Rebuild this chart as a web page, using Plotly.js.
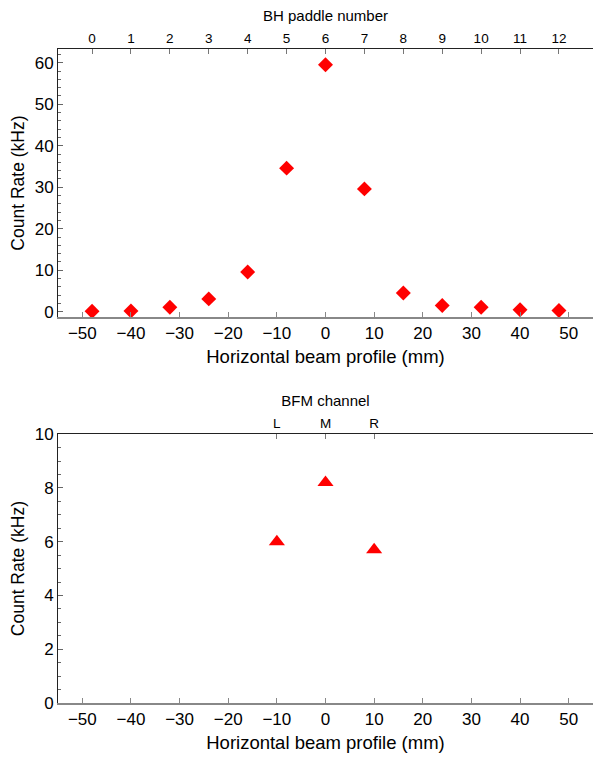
<!DOCTYPE html>
<html>
<head>
<meta charset="utf-8">
<script src="https://cdn.plot.ly/plotly-3.0.1.min.js"></script>
<style>
  html, body { margin: 0; padding: 0; background: #fff; }
  #chart { width: 593px; height: 757px; }
</style>
</head>
<body>
<div id="chart"></div>
<script>
// ---- data ----
const bhX = [-48, -40, -32, -24, -16, -8, 0, 8, 16, 24, 32, 40, 48];
const bhRate = [0.1, 0.2, 1.1, 3.1, 9.6, 34.6, 59.5, 29.6, 4.5, 1.5, 1.1, 0.5, 0.3];
const bhPaddle = ['0', '1', '2', '3', '4', '5', '6', '7', '8', '9', '10', '11', '12'];

const bfmX = [-10, 0, 10];
const bfmRate = [6.0, 8.2, 5.7];
const bfmChannel = ['L', 'M', 'R'];

const xTitle = 'Horizontal beam profile (mm)';
const yTitle = 'Count Rate (kHz)';
const bhTitle = 'BH paddle number';
const bfmTitle = 'BFM channel';

// ---- styling ----
const FONT = 'Liberation Sans, Arial, sans-serif';
const red = '#ff0000';

const traces = [
  { x: bhX, y: bhRate, xaxis: 'x', yaxis: 'y', mode: 'markers', type: 'scatter',
    marker: { symbol: 'diamond', size: 11.5, color: red }, hoverinfo: 'x+y' },
  { x: bhX, y: bhRate, xaxis: 'x2', yaxis: 'y', mode: 'markers', type: 'scatter',
    marker: { size: 1, opacity: 0 }, hoverinfo: 'skip' },
  { x: bfmX, y: bfmRate, xaxis: 'x3', yaxis: 'y2', mode: 'markers', type: 'scatter',
    marker: { symbol: 'triangle-up', size: 14, color: red }, hoverinfo: 'x+y' },
  { x: bfmX, y: bfmRate, xaxis: 'x4', yaxis: 'y2', mode: 'markers', type: 'scatter',
    marker: { size: 1, opacity: 0 }, hoverinfo: 'skip' }
];

function bottomAxis(anchor) {
  return {
    anchor: anchor, domain: [0, 1], range: [-55, 55],
    showline: true, linecolor: '#888', linewidth: 1.5,
    ticks: 'inside', ticklen: 5, tickcolor: '#888', tickwidth: 1,
    tick0: 0, dtick: 10, showgrid: false, zeroline: false,
    tickfont: { family: FONT, size: 17, color: '#000' },
    title: { text: xTitle, font: { family: FONT, size: 18.5, color: '#000' }, standoff: 8 }
  };
}
function topAxis(over, anchor, vals, texts, title) {
  return {
    overlaying: over, anchor: anchor, side: 'top', range: [-55, 55],
    showline: true, linecolor: '#222', linewidth: 1,
    ticks: 'inside', ticklen: 5, tickcolor: '#777', tickwidth: 1,
    tickmode: 'array', tickvals: vals, ticktext: texts,
    showgrid: false, zeroline: false,
    tickfont: { family: FONT, size: 13.5, color: '#000' },
    title: { text: title, font: { family: FONT, size: 15, color: '#000' }, standoff: 5 }
  };
}
function leftAxis(anchor, domain, range, dtick, minor) {
  return {
    anchor: anchor, domain: domain, range: range,
    showline: true, linecolor: '#222', linewidth: 1,
    ticks: 'inside', ticklen: 5, tickcolor: '#666', tickwidth: 1,
    tick0: 0, dtick: dtick, showgrid: false, zeroline: false,
    minor: { ticks: 'inside', dtick: minor, ticklen: 3, tickcolor: '#666', showgrid: false },
    tickfont: { family: FONT, size: 17, color: '#000' },
    title: { text: yTitle, font: { family: FONT, size: 17.5, color: '#000' }, standoff: 5 }
  };
}

const layout = {
  width: 593, height: 757,
  margin: { l: 58, r: 0, t: 49, b: 54 },
  paper_bgcolor: '#fff', plot_bgcolor: '#fff',
  showlegend: false,
  font: { family: FONT, color: '#000' },
  xaxis: bottomAxis('y'),
  xaxis2: topAxis('x', 'y', bhX, bhPaddle, bhTitle),
  yaxis: leftAxis('x', [0.59, 1], [-1.3, 63.3], 10, 2),
  xaxis3: bottomAxis('y2'),
  xaxis4: topAxis('x3', 'y2', bfmX, bfmChannel, bfmTitle),
  yaxis2: leftAxis('x3', [0, 0.411], [0, 10], 2, 0.5)
};

Plotly.newPlot('chart', traces, layout, { displayModeBar: false, staticPlot: true });
</script>
</body>
</html>
